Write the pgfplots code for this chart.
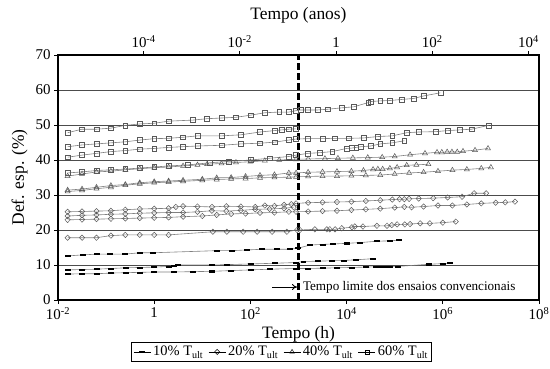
\documentclass[border=0pt]{standalone}
\usepackage{fontspec}
\setmainfont{Liberation Serif}
\usepackage{pgfplots}
\pgfplotsset{compat=1.18}
\usetikzlibrary{arrows.meta}
\pgfplotsset{
  sline/.style={color=black!50, line width=0.6bp, forget plot},
  s10/.style={sline, mark=square*, mark size=1.3bp, mark options={solid, draw=black, fill=black, xscale=1.9, yscale=0.42}},
  s20/.style={sline, mark=diamond, mark size=2.7bp, mark options={solid, draw=black!65, fill=white, line width=0.5bp, xscale=1.3}},
  s40/.style={sline, mark=triangle, mark size=2.9bp, mark options={solid, draw=black!65, fill=white, line width=0.5bp}},
  s60/.style={sline, mark=square, mark size=2.4bp, mark options={solid, draw=black!65, fill=white, line width=0.5bp}},
}
\begin{document}
\begin{tikzpicture}
\path[use as bounding box] (-58bp,-69bp) rectangle (492bp,300bp);
\begin{axis}[
  at={(0,0)}, anchor=south west,
  scale only axis, width=481bp, height=245bp,
  xmode=log, xmin=1e-2, xmax=1e8, ymin=0, ymax=70,
  xtick={1e-2,1,1e2,1e4,1e6,1e8},
  xticklabels={10\textsuperscript{-2},1,10\textsuperscript{2},10\textsuperscript{4},10\textsuperscript{6},10\textsuperscript{8}},
  minor xtick={}, xminorticks=false,
  ytick={0,10,...,70},
  ymajorgrids, grid style={black!70, line width=0.6bp},
  tick align=outside, tick pos=left,
  major tick length=4bp,
  major tick style={black, line width=0.8bp},
  axis line style={black, line width=1.2bp},
  /pgf/number format/assume math mode=true,
  tick label style={font=\fontsize{15}{17}\selectfont},
  xlabel={Tempo (h)}, ylabel={Def. esp. (\%)},
  label style={font=\fontsize{17.5}{20}\selectfont},
  xlabel style={at={(axis description cs:0.5,-0.14)}, anchor=center},
  ylabel style={at={(axis description cs:-0.08,0.5)}, anchor=center},
  legend style={at={(axis description cs:0.465,-0.212)}, anchor=center,
    legend columns=4, draw=black, line width=0.8bp,
    font=\fontsize{14.5}{16}\selectfont, inner sep=1.5bp,
    /tikz/every even column/.append style={column sep=3bp}},
]
% ---- 60% ----
\addplot[s60] coordinates {(0.01585,47.8)(0.03162,48.8)(0.0631,48.8)(0.1259,49.1)(0.2512,49.9)(0.5012,50.3)(1,50.5)(1.995,51.1)(6.31,51.4)(12.59,51.8)(25.12,52.0)(50.12,52.2)(100,52.8)(199.5,53.5)(398.1,53.7)(631,53.7)(891.3,54.1)(1122,54.3)(1585,54.3)(2512,54.3)(3981,54.5)(7943,54.9)(14130,55.2)(28180,56.4)(31620,56.7)(50120,56.9)(79430,57.0)(141300,57.3)(251200,57.6)(398100,58.3)(891300,59.2)};
\addplot[s60] coordinates {(0.01585,43.8)(0.03162,44.3)(0.0631,44.6)(0.1259,44.9)(0.2512,45.2)(0.5012,45.7)(1,46.1)(1.995,46.2)(3.981,46.5)(7.943,46.9)(25.12,46.9)(63.1,47.2)(158.5,48.0)(316.2,48.4)(446.7,48.6)(631,48.8)(891.3,48.9)};
\addplot[s60] coordinates {(0.01585,40.8)(0.03162,41.4)(0.0631,41.9)(0.1259,42.4)(0.2512,42.7)(0.5012,43.1)(1,43.3)(1.995,43.6)(3.981,43.8)(7.943,44.0)(25.12,44.2)(63.1,44.6)(158.5,44.8)(316.2,45.1)(631,45.7)(891.3,46.0)(1585,46.1)(3162,46.1)(5623,46.2)(11220,46.2)(22390,46.3)(44670,46.7)(89130,46.9)(177800,47.8)(316200,48.0)(707900,48.1)(1259000,48.4)(2239000,48.6)(3981000,48.8)(8913000,49.9)};
\addplot[s60] coordinates {(0.01585,36.3)(0.03162,36.6)(0.0631,37.0)(0.1259,37.2)(0.2512,37.4)(0.5012,37.7)(1,38.0)(1.995,38.3)(5.012,38.6)(14.13,39.2)(35.48,39.6)(100,40.0)(251.2,40.5)(631,41.0)(891.3,41.4)(1585,41.9)(2818,42.1)(5012,42.4)(10000,43.3)(12590,43.4)(15850,43.6)(19950,43.8)(31620,44.0)(50120,44.6)(89130,44.9)(158500,45.5)};
% ---- 40% ----
\addplot[s40] coordinates {(0.01585,35.4)(0.03162,36.0)(0.0631,36.6)(0.1259,36.8)(0.2512,37.2)(0.5012,37.5)(1,37.8)(1.995,38.0)(3.981,38.3)(7.943,38.6)(12.59,38.8)(25.12,39.0)(50.12,39.3)(100,39.5)(199.5,39.8)(398.1,40.0)(891.3,40.2)(1585,40.3)(3548,40.4)(6607,40.5)(13490,40.6)(27540,40.7)(54950,40.8)(100000,41.0)(208900,41.5)(426600,41.9)(758600,42.2)(955000,42.2)(1230000,42.3)(1549000,42.3)(1995000,42.3)(2630000,42.5)(4677000,42.8)(8710000,43.3)};
\addplot[s40] coordinates {(0.01585,31.4)(0.03162,31.7)(0.0631,32.2)(0.1259,32.7)(0.2512,33.0)(0.5012,33.5)(1,33.8)(1.995,34.0)(3.981,34.2)(10,34.5)(19.95,34.9)(39.81,35.0)(79.43,35.3)(158.5,35.6)(316.2,35.8)(631,36.3)(891.3,36.3)(1585,36.5)(3162,36.6)(6310,36.7)(12590,36.8)(22390,37.0)(35480,37.3)(44670,37.4)(56230,37.4)(79430,37.6)(112200,37.9)(177800,38.5)(281800,38.6)(501200,38.8)};
\addplot[s40] coordinates {(0.01585,31.0)(0.03162,31.3)(0.0631,31.8)(0.1259,32.2)(0.2512,32.8)(0.5012,33.2)(1,33.5)(1.995,33.7)(3.981,33.9)(10,34.2)(19.95,34.4)(39.81,34.6)(79.43,34.7)(158.5,34.9)(316.2,35.0)(631,35.1)(891.3,35.2)(1585,35.3)(3162,35.4)(6310,35.4)(12590,35.5)(25120,35.6)(50120,35.7)(100000,36.0)(199500,36.3)(398100,36.5)(794300,36.8)(1585000,37.1)(3162000,37.3)(6310000,37.6)(10000000,37.9)};
% ---- 20% ----
\addplot[s20] coordinates {(0.01585,25.2)(0.03162,25.3)(0.0631,25.4)(0.1259,25.5)(0.2512,25.8)(0.5012,26.0)(1,26.1)(1.995,26.2)(2.818,26.6)(3.981,26.8)(7.943,26.7)(15.85,26.6)(31.62,26.8)(63.1,26.7)(125.9,26.6)(199.5,27.0)(316.2,26.9)(501.2,27.2)(707.9,27.4)(891.3,27.6)(1585,27.8)(3162,27.9)(6310,28.0)(12590,28.1)(25120,28.3)(50120,28.5)(89130,28.7)(125900,28.8)(158500,28.8)(199500,28.9)(316200,29.0)(631000,29.1)(1259000,29.3)(2512000,29.5)(4467000,30.5)(7943000,30.5)};
\addplot[s20] coordinates {(0.01585,24.0)(0.03162,24.2)(0.0631,24.3)(0.1259,24.5)(0.2512,24.6)(0.5012,24.8)(1,24.9)(1.995,25.0)(3.981,25.0)(7.943,25.2)(15.85,25.5)(31.62,25.4)(63.1,25.6)(125.9,25.9)(251.2,26.0)(501.2,26.2)(794.3,26.5)};
\addplot[s20] coordinates {(0.01585,22.9)(0.03162,23.0)(0.0631,23.1)(0.1259,23.2)(0.2512,23.3)(0.5012,23.4)(1,23.5)(1.995,23.6)(3.981,23.8)(10,24.0)(19.95,24.3)(39.81,24.6)(79.43,24.7)(158.5,24.9)(316.2,25.0)(631,25.2)(891.3,25.2)(1585,25.3)(3162,25.4)(6310,25.5)(12590,25.7)(25120,25.9)(50120,26.1)(100000,26.4)(158500,26.6)(223900,26.5)(398100,26.7)(794300,27.0)(1585000,27.0)(3162000,27.3)(6310000,27.6)(12590000,27.8)(19950000,27.9)(31620000,28.1)};
\addplot[s20] coordinates {(0.01585,17.8)(0.03162,17.8)(0.0631,17.8)(0.1259,18.4)(0.2512,18.6)(0.5012,18.6)(1,18.6)(1.995,18.6)(16.6,19.5)(32.4,19.5)(70.8,19.5)(138,19.5)(282,19.5)(575,19.5)(933,20.0)(1072,20.0)(2188,20.2)(3890,20.2)(4467,20.2)(5754,20.2)(7943,20.5)(12880,20.8)(14790,21.0)(21880,21.0)(42660,21.2)(69180,21.2)(87100,21.4)(112200,21.6)(162200,21.6)(208900,21.7)(338800,21.9)(537000,21.9)(1000000,22.1)(1862000,22.4)};
% ---- 10% ----
\addplot[s10] coordinates {(0.01622,12.6)(0.03311,12.9)(0.06457,13.1)(0.1202,13.1)(0.2455,13.1)(0.5012,13.5)(0.955,13.5)(19.95,14.1)(41.69,14.1)(85.11,14.3)(173.8,14.5)(354.8,14.5)(660.7,14.5)(977,14.8)(1738,15.7)(3236,15.9)(5248,16.0)(10230,16.2)(19050,16.4)(42660,16.8)(79430,16.9)(123000,17.1)};
\addplot[s10] coordinates {(0.01585,8.6)(0.03162,8.7)(0.0631,8.8)(0.1259,9.0)(0.2512,9.2)(0.5012,9.3)(1,9.4)(1.995,9.6)(2.512,9.7)(3.162,10.0)(15.85,10.0)(31.62,10.1)(100,10.3)(316.2,10.5)(891.3,10.7)(1259,11.0)(2512,11.1)(5012,11.2)(8913,11.3)(15850,11.5)(35480,11.8)};
\addplot[s10] coordinates {(0.01585,7.4)(0.03162,7.5)(0.0631,7.5)(0.1259,7.7)(0.2512,7.8)(0.5012,7.9)(1,8.0)(2.512,8.0)(6.31,8.1)(15.85,8.2)(39.81,8.4)(100,8.6)(251.2,8.8)(891.3,9.0)(1585,9.0)(3162,9.1)(6310,9.2)(12590,9.3)(25120,9.4)(39810,9.5)(50120,9.5)(63100,9.5)(79430,9.6)(117500,9.6)(501200,10.2)(1000000,10.4)(1413000,10.5)};
% ---- limit line ----
\addplot[black, line width=2.6bp, dash pattern=on 7bp off 3bp, forget plot] coordinates {(1000,0) (1000,70)};
\draw[-{To[length=5bp,width=6bp]}, line width=0.9bp] (axis cs:282,3.7) -- (axis cs:930,3.7);
\node[anchor=west, inner sep=0pt, font=\fontsize{13.2}{15}\selectfont] at (axis cs:1230,3.5) {Tempo limite dos ensaios convencionais};
% ---- legend ----
\addlegendimage{black, line width=0.8bp, mark=square*, mark size=1.3bp, mark options={solid, draw=black, fill=black, xscale=1.9, yscale=0.42}}
\addlegendentry{10\% T\textsubscript{ult}}
\addlegendimage{black, line width=0.8bp, mark=diamond, mark size=2.6bp, mark options={solid, draw=black, fill=white, line width=0.5bp, xscale=1.3}}
\addlegendentry{20\% T\textsubscript{ult}}
\addlegendimage{black, line width=0.8bp, mark=triangle, mark size=2.6bp, mark options={solid, draw=black, fill=white, line width=0.5bp}}
\addlegendentry{40\% T\textsubscript{ult}}
\addlegendimage{black, line width=0.8bp, mark=square, mark size=2.1bp, mark options={solid, draw=black, fill=white, line width=0.5bp}}
\addlegendentry{60\% T\textsubscript{ult}}
\end{axis}
\begin{axis}[
  at={(0,0)}, anchor=south west,
  scale only axis, width=481bp, height=245bp,
  xmode=log, xmin=1.66e-6, xmax=1.66e4, ymin=0, ymax=70,
  axis x line*=top, axis y line=none,
  xtick={1e-4,1e-2,1,1e2,1e4},
  xticklabels={10\textsuperscript{-4},10\textsuperscript{-2},1,10\textsuperscript{2},10\textsuperscript{4}},
  minor xtick={}, xminorticks=false,
  tick align=outside,
  major tick length=4bp,
  major tick style={black, line width=0.8bp},
  axis line style={black, line width=1.2bp},
  tick label style={font=\fontsize{15}{17}\selectfont},
  xlabel={Tempo (anos)},
  label style={font=\fontsize{17.5}{20}\selectfont},
  xlabel style={at={(axis description cs:0.5,1.16)}, anchor=center},
]
\addplot[draw=none, forget plot] coordinates {(1,1)};
\end{axis}
\end{tikzpicture}
\end{document}
